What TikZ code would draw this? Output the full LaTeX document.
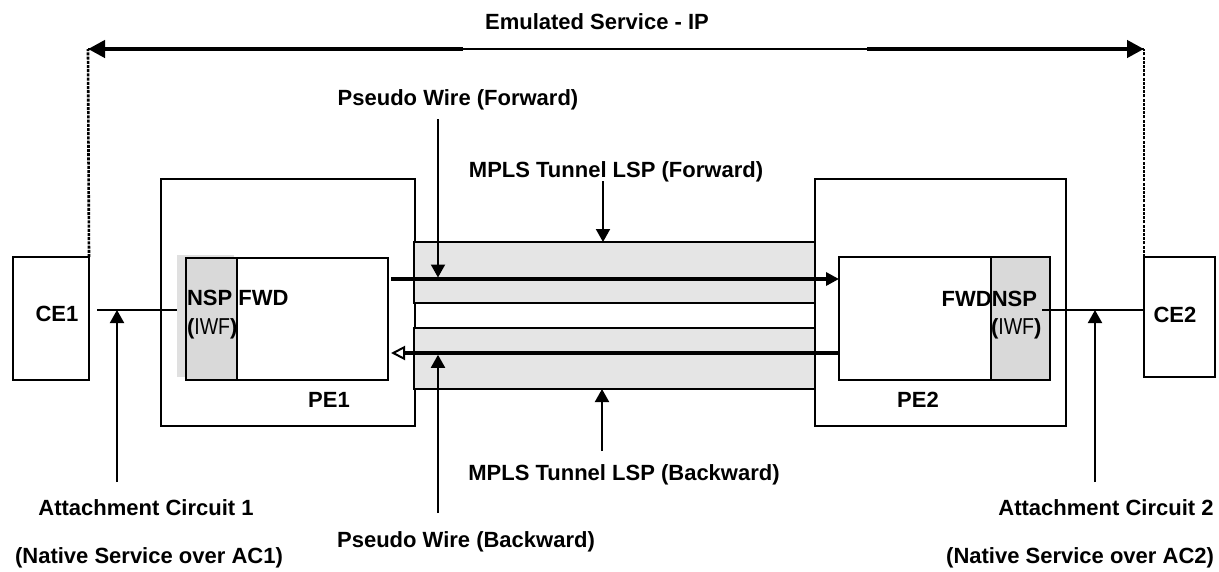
\documentclass[tikz,border=0pt]{standalone}
\usepackage{fontspec}
\setmainfont{Liberation Sans}
\newfontfamily\narrowfont[FakeStretch=0.85]{Liberation Sans}
\usetikzlibrary{arrows.meta}
\begin{document}
\begin{tikzpicture}[x=1pt,y=-1pt,
  box/.style={draw, line width=1.4pt, anchor=north west, inner sep=0pt, outer sep=0pt},
  tunnel/.style={box, fill=black!10},
  nspbox/.style={box, fill=black!15},
  lbl/.style={font=\fontsize{22}{26}\selectfont\bfseries, inner sep=0pt, outer sep=0pt, anchor=base},
  iwf/.style={font=\fontsize{22}{26}\selectfont, inner sep=0pt, outer sep=0pt, anchor=base west},
  ann/.style={line width=2pt, -{Triangle[length=13pt,width=14pt]}},
  pwfwd/.style={line width=4pt, -{Triangle[length=13pt,width=13pt]}},
  pwbwd/.style={line width=4pt, -{Triangle[length=14pt,width=14pt,fill=white,line width=2pt]}},
  wire/.style={line width=2pt},
  big/.style={line width=4.2pt, -{Triangle[length=17pt,width=17pt]}},
  thinline/.style={line width=2.2pt},
  dots/.style={line width=2.6pt, dash pattern=on 3pt off 1.2pt}
]
\fill[white] (0,0) rectangle (1219,571);
\useasboundingbox (0,0) rectangle (1219,571);

% boxes
\node[box, minimum width=76pt, minimum height=123pt] (CE1) at (13,257) {};
\node[box, minimum width=71pt, minimum height=120pt] (CE2) at (1144,257) {};
\node[box, minimum width=254pt, minimum height=247pt] (PE1) at (161,179) {};
\node[box, minimum width=251pt, minimum height=247pt] (PE2) at (815,179) {};
\node[box, draw=none, fill=black!12, minimum width=57pt, minimum height=122pt] (shadow) at (177,255) {};
\node[box, minimum width=202pt, minimum height=122pt] (PE1in) at (186,258) {};
\node[nspbox, minimum width=51pt, minimum height=122pt] (NSP1) at (186,258) {};
\node[box, minimum width=211pt, minimum height=123pt] (PE2in) at (839,257) {};
\node[nspbox, minimum width=59pt, minimum height=123pt] (NSP2) at (991,257) {};
\node[tunnel, minimum width=401pt, minimum height=61pt] (TF) at (414,242) {};
\node[tunnel, minimum width=401pt, minimum height=61pt] (TB) at (414,328) {};

% labels
\node[lbl] (title) at (597,29) {Emulated Service - IP};
\node[lbl] (pwf) at (458,105) {Pseudo Wire (Forward)};
\node[lbl] (mplsf) at (616,177) {MPLS Tunnel LSP (Forward)};
\node[lbl] (ce1t) at (57,321) {CE1};
\node[lbl] (ce2t) at (1175,322) {CE2};
\node[lbl, anchor=base west] (nspfwd1) at (187,305) {NSP FWD};
\node[iwf] (iwf1) at (187,334) {\textbf{(}{\narrowfont\fontsize{23}{26}\selectfont IWF}\textbf{)}};
\node[lbl] (pe1t) at (329,407) {PE1};
\node[lbl, anchor=base east] (fwdnsp2) at (1037,306) {FWDNSP};
\node[iwf] (iwf2) at (991,334) {\textbf{(}{\narrowfont\fontsize{23}{26}\selectfont IWF}\textbf{)}};
\node[lbl] (pe2t) at (918,407) {PE2};
\node[lbl] (mplsb) at (624,480) {MPLS Tunnel LSP (Backward)};
\node[lbl] (pwb) at (466,547) {Pseudo Wire (Backward)};
\node[lbl] (ac1) at (146,515) {Attachment Circuit 1};
\node[lbl] (ns1) at (149,563) {(Native Service over AC1)};
\node[lbl] (ac2) at (1106,515) {Attachment Circuit 2};
\node[lbl, anchor=base east] (ns2) at (1214,563) {(Native Service over AC2)};

% helper coordinates
\coordinate (esL) at (88,49);
\coordinate (esR) at (1144,49);
\coordinate (thkL) at (463,49);
\coordinate (thkR) at (867,49);
\coordinate (fy) at (0,279);
\coordinate (by) at (0,353);
\coordinate (acy) at (0,310);
\coordinate (ce1w) at (97,310);
\coordinate (nsp2w) at (1042,310);
\coordinate (pwfTop) at (438,119);
\coordinate (pwbBot) at (438,513);
\coordinate (mfTop) at (603,181);
\coordinate (mbBot) at (602,451);
\coordinate (ac1Bot) at (117,482);
\coordinate (ac2Bot) at (1095,482);

% emulated service
\draw[dots] (CE1.north east) -- (esL);
\draw[dots] (CE2.north west) -- (esR);
\draw[thinline] (esL) -- (esR);
\draw[big] (thkL) -- (esL);
\draw[big] (thkR) -- (esR);

% pseudo wires
\draw[pwfwd] ([xshift=3pt]PE1in.east |- fy) -- (PE2in.west |- fy);
\draw[pwbwd] (PE2in.west |- by) -- ([xshift=3pt]PE1in.east |- by);

% attachment wires
\draw[wire] (ce1w) -- (shadow.west |- acy);
\draw[wire] (nsp2w) -- (CE2.west |- acy);

% annotation arrows
\draw[ann, shorten >=1.5pt] (pwfTop) -- (pwfTop |- fy);
\draw[ann, shorten >=1.8pt] (pwbBot) -- (pwbBot |- by);
\draw[ann] (mfTop) -- (mfTop |- TF.north);
\draw[ann] (mbBot) -- (mbBot |- TB.south);
\draw[ann] (ac1Bot) -- (ac1Bot |- acy);
\draw[ann] (ac2Bot) -- (ac2Bot |- acy);
\end{tikzpicture}
\end{document}
